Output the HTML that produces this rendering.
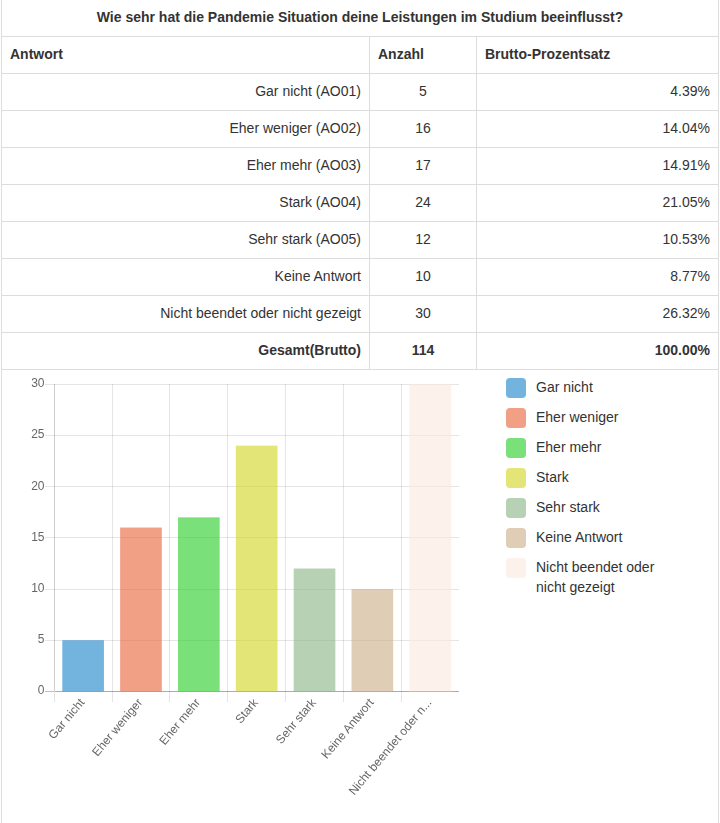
<!DOCTYPE html>
<html><head><meta charset="utf-8">
<style>
html,body{margin:0;padding:0;background:#fff;width:720px;height:823px;overflow:hidden}
body{font-family:"Liberation Sans",sans-serif;font-size:14px;line-height:20px;color:#333;position:relative}
#wrap{position:absolute;left:1px;top:-1px;width:718px}
table{border-collapse:collapse;width:717px;table-layout:fixed}
td,th{border:1px solid #ddd;padding:7px 8px 9px;line-height:20px;font-size:14px;vertical-align:top}
th{font-weight:bold;text-align:left}
.r{text-align:right}
.c{text-align:center}
.b{font-weight:bold}
#chart{position:absolute;left:1px;top:369px;width:716px;height:460px;border-left:1px solid #ddd;border-right:1px solid #ddd}
svg{position:absolute;left:0;top:0;will-change:transform}
#legend{position:absolute;left:505px;top:377px;width:180px}
.li{position:relative;padding-left:31px;min-height:20px;margin-bottom:10px;line-height:20px;color:#333}
.sw{position:absolute;left:1px;top:1px;width:20px;height:20px;border-radius:4px}
</style></head><body>
<div id="wrap">
<table>
<colgroup><col style="width:368px"><col style="width:107px"><col style="width:242px"></colgroup>
<tr><th colspan="3" style="text-align:center">Wie sehr hat die Pandemie Situation deine Leistungen im Studium beeinflusst?</th></tr>
<tr><th>Antwort</th><th>Anzahl</th><th>Brutto-Prozentsatz</th></tr>
<tr><td class="r">Gar nicht (AO01)</td><td class="c">5</td><td class="r">4.39%</td></tr>
<tr><td class="r">Eher weniger (AO02)</td><td class="c">16</td><td class="r">14.04%</td></tr>
<tr><td class="r">Eher mehr (AO03)</td><td class="c">17</td><td class="r">14.91%</td></tr>
<tr><td class="r">Stark (AO04)</td><td class="c">24</td><td class="r">21.05%</td></tr>
<tr><td class="r">Sehr stark (AO05)</td><td class="c">12</td><td class="r">10.53%</td></tr>
<tr><td class="r">Keine Antwort</td><td class="c">10</td><td class="r">8.77%</td></tr>
<tr><td class="r">Nicht beendet oder nicht gezeigt</td><td class="c">30</td><td class="r">26.32%</td></tr>
<tr><td class="r b">Gesamt(Brutto)</td><td class="c b">114</td><td class="r b">100.00%</td></tr>
</table>
</div>
<div id="chart"></div>
<svg width="470" height="454" viewBox="0 369 470 454" style="top:369px" font-family="Liberation Sans" font-size="12" fill="#666">
<g shape-rendering="crispEdges" stroke-width="1" stroke="rgba(0,0,0,0.1)">
<line x1="45" y1="384.5" x2="459.15" y2="384.5"/>
<line x1="45" y1="435.5" x2="459.15" y2="435.5"/>
<line x1="45" y1="486.5" x2="459.15" y2="486.5"/>
<line x1="45" y1="537.5" x2="459.15" y2="537.5"/>
<line x1="45" y1="589.5" x2="459.15" y2="589.5"/>
<line x1="45" y1="640.5" x2="459.15" y2="640.5"/>
<line x1="112.5" y1="384" x2="112.5" y2="702"/>
<line x1="169.5" y1="384" x2="169.5" y2="702"/>
<line x1="227.5" y1="384" x2="227.5" y2="702"/>
<line x1="285.5" y1="384" x2="285.5" y2="702"/>
<line x1="343.5" y1="384" x2="343.5" y2="702"/>
<line x1="401.5" y1="384" x2="401.5" y2="702"/>
</g>
<g shape-rendering="crispEdges" stroke-width="1">
<line x1="54.5" y1="384" x2="54.5" y2="691" stroke="rgba(0,0,0,0.19)"/>
<line x1="54.5" y1="692" x2="54.5" y2="702" stroke="rgba(0,0,0,0.1)"/>
<line x1="45" y1="691.5" x2="54" y2="691.5" stroke="rgba(0,0,0,0.25)"/>
<line x1="55" y1="691.5" x2="459.15" y2="691.5" stroke="rgba(0,0,0,0.325)"/>
<rect x="54" y="691" width="1" height="1" fill="rgba(0,0,0,0.12)"/>
</g>
<g>
<rect x="62.30" y="640.20" width="41.65" height="51.20" fill="rgba(20,130,200,0.6)"/>
<rect x="120.15" y="527.56" width="41.65" height="163.84" fill="rgba(232,95,51,0.6)"/>
<rect x="178.00" y="517.32" width="41.65" height="174.08" fill="rgba(34,205,33,0.6)"/>
<rect x="235.85" y="445.64" width="41.65" height="245.76" fill="rgba(210,211,28,0.6)"/>
<rect x="293.70" y="568.52" width="41.65" height="122.88" fill="rgba(134,179,129,0.6)"/>
<rect x="351.55" y="589.00" width="41.65" height="102.40" fill="rgba(201,171,131,0.6)"/>
<rect x="409.40" y="384.20" width="41.65" height="307.20" fill="rgba(251,231,221,0.6)"/>
</g>
<g text-anchor="end">
<text x="44.5" y="387.20">30</text>
<text x="44.5" y="438.40">25</text>
<text x="44.5" y="489.60">20</text>
<text x="44.5" y="540.80">15</text>
<text x="44.5" y="592.00">10</text>
<text x="44.5" y="643.20">5</text>
<text x="44.5" y="694.40">0</text>
</g>
<g text-anchor="end">
<text transform="translate(81.92,700.10) rotate(-50)" y="4.16">Gar nicht</text>
<text transform="translate(139.78,700.10) rotate(-50)" y="4.16">Eher weniger</text>
<text transform="translate(197.62,700.10) rotate(-50)" y="4.16">Eher mehr</text>
<text transform="translate(255.48,700.10) rotate(-50)" y="4.16">Stark</text>
<text transform="translate(313.32,700.10) rotate(-50)" y="4.16">Sehr stark</text>
<text transform="translate(371.18,700.10) rotate(-50)" y="4.16">Keine Antwort</text>
<text transform="translate(429.03,700.10) rotate(-50)" y="4.16">Nicht beendet oder n...</text>
</g>
</svg>
<div id="legend">
<div class="li"><span class="sw" style="background:rgba(20,130,200,0.6)"></span>Gar nicht</div>
<div class="li"><span class="sw" style="background:rgba(232,95,51,0.6)"></span>Eher weniger</div>
<div class="li"><span class="sw" style="background:rgba(34,205,33,0.6)"></span>Eher mehr</div>
<div class="li"><span class="sw" style="background:rgba(210,211,28,0.6)"></span>Stark</div>
<div class="li"><span class="sw" style="background:rgba(134,179,129,0.6)"></span>Sehr stark</div>
<div class="li"><span class="sw" style="background:rgba(201,171,131,0.6)"></span>Keine Antwort</div>
<div class="li"><span class="sw" style="background:rgba(251,231,221,0.6)"></span>Nicht beendet oder nicht gezeigt</div>
</div>
</body></html>
